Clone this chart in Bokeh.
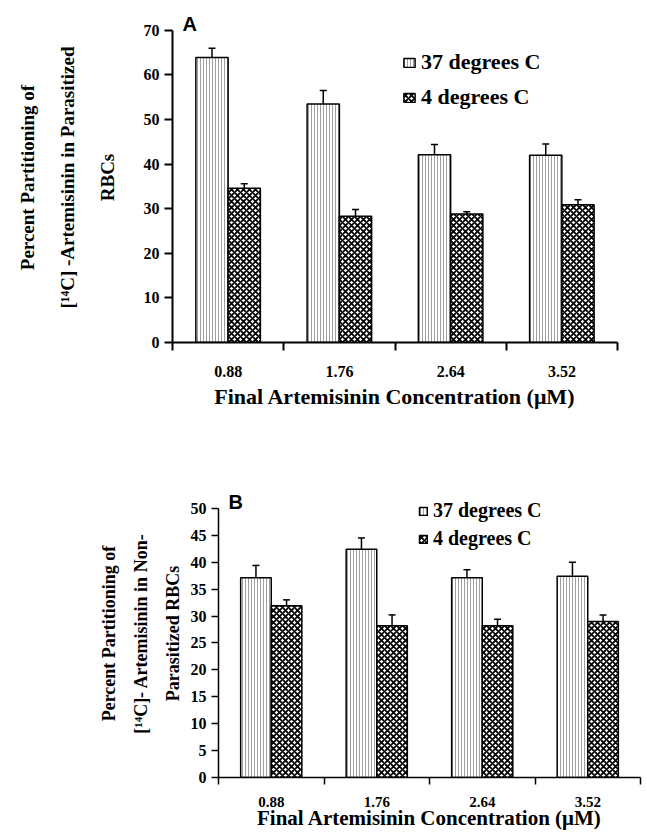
from bokeh.plotting import figure
from bokeh.models import (ColumnDataSource, FixedTicker, Whisker, TeeHead, Legend,
                          LegendItem, Label, Range1d)
from bokeh.embed import file_html
from bokeh.resources import INLINE

categories = ["0.88", "1.76", "2.64", "3.52"]
series_names = ["37 degrees C", "4 degrees C"]

a_37 = [63.9, 53.5, 42.1, 42.0]
a_37_err = [2.1, 3.0, 2.3, 2.5]
a_4 = [34.6, 28.3, 28.8, 30.9]
a_4_err = [1.0, 1.5, 0.5, 1.1]

b_37 = [37.1, 42.4, 37.1, 37.4]
b_37_err = [2.3, 2.1, 1.5, 2.6]
b_4 = [31.9, 28.2, 28.2, 29.0]
b_4_err = [1.1, 2.0, 1.2, 1.2]

a_yticks = [0, 10, 20, 30, 40, 50, 60, 70]
b_yticks = [0, 5, 10, 15, 20, 25, 30, 35, 40, 45, 50]

SERIF = "Liberation Serif"
SANS = "Liberation Sans"


def make_panel(v37, e37, v4, e4, ymax, yend, yticks, ylabel, letter, opts):
    n = len(categories)
    centers = [i + 0.5 for i in range(n)]
    bw = 0.29
    x37 = [c - bw / 2 for c in centers]
    x4 = [c + bw / 2 for c in centers]
    s37 = ColumnDataSource(dict(x=x37, v=v37, top=[a + b for a, b in zip(v37, e37)]))
    s4 = ColumnDataSource(dict(x=x4, v=v4, top=[a + b for a, b in zip(v4, e4)]))

    p = figure(width=opts["width"], height=opts["height"],
               x_range=Range1d(0, n), y_range=Range1d(0, yend),
               output_backend="svg", toolbar_location=None,
               min_border_left=opts["bl"], min_border_right=opts["br"],
               min_border_top=opts["bt"], min_border_bottom=opts["bb"])
    p.outline_line_color = None
    p.xgrid.visible = False
    p.ygrid.visible = False
    p.background_fill_color = "white"

    r37 = p.vbar(x="x", top="v", width=bw, source=s37, fill_color="white",
                 line_color="black", line_width=1.5,
                 hatch_pattern="vertical_line", hatch_scale=3, hatch_weight=1,
                 hatch_color="#a0a0a0")
    r4 = p.vbar(x="x", top="v", width=bw, source=s4, fill_color="white",
                line_color="black", line_width=1.5,
                hatch_pattern="diagonal_cross", hatch_scale=6, hatch_weight=1.8,
                hatch_color="black")

    for src in (s37, s4):
        w = Whisker(source=src, base="x", lower="v", upper="top",
                    upper_head=TeeHead(size=7, line_width=1.5, line_color="black"),
                    lower_head=None, line_width=1.5, line_color="black")
        p.add_layout(w)

    # axes
    xa = p.xaxis[0]
    xa.ticker = FixedTicker(ticks=centers, minor_ticks=list(range(n + 1)))
    xa.major_label_overrides = {c: lab for c, lab in zip(centers, categories)}
    xa.major_tick_line_color = None
    xa.minor_tick_in = 0
    xa.minor_tick_out = opts["xtick"]
    xa.minor_tick_line_color = "black"
    xa.minor_tick_line_width = opts["lw"]
    xa.axis_line_width = opts["lw"]
    xa.axis_line_color = "black"
    xa.major_label_text_font = SERIF
    xa.major_label_text_font_style = "bold"
    xa.major_label_text_font_size = opts["xlab_fs"]
    xa.major_label_text_color = "black"
    xa.major_label_standoff = opts["xlab_so"]
    xa.axis_label = "Final Artemisinin Concentration (\u03bcM)"
    xa.axis_label_text_font = SERIF
    xa.axis_label_text_font_style = "bold"
    xa.axis_label_text_font_size = opts["xtitle_fs"]
    xa.axis_label_text_color = "black"
    xa.axis_label_standoff = opts["xtitle_so"]

    ya = p.yaxis[0]
    ya.ticker = FixedTicker(ticks=yticks)
    ya.bounds = (0, ymax)
    ya.major_tick_in = 0
    ya.major_tick_out = opts["ytick"]
    ya.major_tick_line_width = opts["lw"]
    ya.major_tick_line_color = "black"
    ya.minor_tick_line_color = None
    ya.axis_line_width = opts["lw"]
    ya.axis_line_color = "black"
    ya.major_label_text_font = SERIF
    ya.major_label_text_font_style = "bold"
    ya.major_label_text_font_size = opts["ylab_fs"]
    ya.major_label_text_color = "black"
    ya.major_label_standoff = 5
    ya.axis_label = ylabel
    ya.axis_label_text_font = SERIF
    ya.axis_label_text_font_style = "bold"
    ya.axis_label_text_font_size = opts["ytitle_fs"]
    ya.axis_label_text_color = "black"
    ya.axis_label_text_line_height = opts["ytitle_lh"]
    ya.axis_label_standoff = opts["ytitle_so"]

    legend = Legend(items=[LegendItem(label=series_names[0], renderers=[r37]),
                           LegendItem(label=series_names[1], renderers=[r4])],
                    location=opts["leg_loc"], padding=0, spacing=opts["leg_sp"],
                    glyph_width=opts["gw"], glyph_height=opts["gh"],
                    label_standoff=5, label_text_font=SERIF,
                    label_text_font_style="bold", label_text_font_size=opts["leg_fs"],
                    label_text_color="black",
                    background_fill_alpha=0, border_line_color=None)
    p.add_layout(legend)

    p.add_layout(Label(x=0, y=ymax, x_offset=10, y_offset=6, text=letter,
                       text_font=SANS, text_font_style="bold", text_font_size="20px",
                       text_baseline="alphabetic", text_color="black"))
    return p


pa = make_panel(a_37, a_37_err, a_4, a_4_err, 70, 74, a_yticks,
                "Percent Partitioning of\n[\u00b9\u2074C] -Artemisinin in Parasitized\nRBCs", "A",
                dict(width=647, height=415, bl=172, br=30, bt=12, bb=73,
                     xtick=8, lw=2, xlab_fs="16px", xlab_so=15, xtitle_fs="22px",
                     xtitle_so=4, ytick=8, ylab_fs="16px", ytitle_fs="19px",
                     ytitle_lh=1.9, ytitle_so=23, leg_loc=(230, 232), leg_sp=9,
                     gw=14, gh=11, leg_fs="22px"))

pb = make_panel(b_37, b_37_err, b_4, b_4_err, 50, 53.5, b_yticks,
                "Percent Partitioning of\n[\u00b9\u2074C]- Artemisinin in Non-\nParasitized RBCs", "B",
                dict(width=647, height=417, bl=218, br=7, bt=74, bb=55,
                     xtick=7, lw=1.5, xlab_fs="15px", xlab_so=12, xtitle_fs="21px",
                     xtitle_so=-4, ytick=7, ylab_fs="16px", ytitle_fs="18px",
                     ytitle_lh=1.6, ytitle_so=5, leg_loc=(200, 227), leg_sp=5,
                     gw=10, gh=10, leg_fs="20px"))

open("out.html", "w").write(file_html([pa, pb], INLINE))
